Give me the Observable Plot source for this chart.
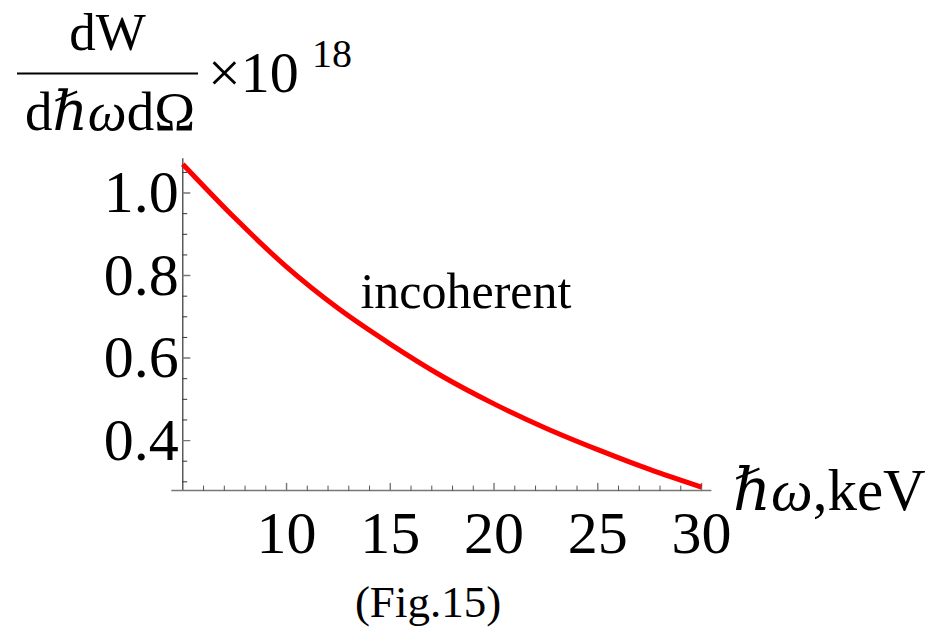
<!DOCTYPE html>
<html>
<head>
<meta charset="utf-8">
<script src="https://cdn.jsdelivr.net/npm/d3@7"></script>
<script src="https://cdn.jsdelivr.net/npm/@observablehq/plot@0.6"></script>
<style>
  html, body { margin: 0; padding: 0; background: #fff; }
  #chart { position: relative; width: 929px; height: 633px; }
  svg text { font-family: "Liberation Serif", "DejaVu Serif", serif; }
</style>
</head>
<body>
<div id="chart"></div>
<script>
// Photon energy (keV) and the incoherent spectral-angular density (×10^18)
const energy    = [5, 7.5, 10, 12.5, 15, 17.5, 20, 22.5, 25, 27.5, 30];
const intensity = [1.07, 0.94, 0.821, 0.72, 0.634, 0.556, 0.489, 0.43, 0.378, 0.33, 0.287];

// Axis ticks
const xMajor = [10, 15, 20, 25, 30];
const xMinor = [6, 7, 8, 9, 11, 12, 13, 14, 16, 17, 18, 19, 21, 22, 23, 24, 26, 27, 28, 29];
const yMajor = [0.4, 0.6, 0.8, 1.0];
const yMinor = [0.3, 0.35, 0.45, 0.5, 0.55, 0.65, 0.7, 0.75, 0.85, 0.9, 0.95, 1.05];
const yTickLabels = ["0.4", "0.6", "0.8", "1.0"];

const xDomain = [5, 30.5];
const yDomain = [0.279, 1.083];
const xMin = xDomain[0], yMin = yDomain[0];

const curve = energy.map((e, i) => ({e, w: intensity[i]}));
const annotation = [{e: 13.56, w: 0.759, text: "incoherent"}];

const font = "Liberation Serif";

// a plain straight tick, drawn as a vector shape
const tickShape = {
  draw(context, l) {
    context.moveTo(0, 0);
    context.lineTo(0, -l);
  }
};

const plot = Plot.plot({
  width: 929,
  height: 633,
  marginLeft: 182.3,
  marginRight: 217.6,
  marginTop: 158.3,
  marginBottom: 143,
  style: {background: "#fff", overflow: "visible"},
  x: {domain: xDomain, axis: null},
  y: {domain: yDomain, axis: null},
  marks: [
    // axis lines
    Plot.ruleX([xMin], {stroke: "#333", strokeWidth: 1.2}),
    Plot.ruleY([yMin], {stroke: "#777", strokeWidth: 1.4, insetLeft: -11}),
    // inward ticks on the x axis
    Plot.vector(xMinor, {x: d => d, y: yMin, length: 4.5, rotate: 0, anchor: "start", shape: tickShape, stroke: "#555", strokeWidth: 1}),
    Plot.vector(xMajor, {x: d => d, y: yMin, length: 7, rotate: 0, anchor: "start", shape: tickShape, stroke: "#777", strokeWidth: 1.4}),
    // inward ticks on the y axis
    Plot.vector(yMinor, {x: xMin, y: d => d, length: 4, rotate: 90, anchor: "start", shape: tickShape, stroke: "#333", strokeWidth: 1}),
    Plot.vector(yMajor, {x: xMin, y: d => d, length: 7, rotate: 90, anchor: "start", shape: tickShape, stroke: "#777", strokeWidth: 1.4}),
    // tick labels
    Plot.text(xMajor, {x: d => d, y: yMin, text: d => String(d), dy: 43, fontSize: 60, fontFamily: font, fill: "#000"}),
    Plot.text(yMajor, {x: xMin, y: d => d, text: (d, i) => yTickLabels[i], dx: -4, textAnchor: "end", fontSize: 60, fontFamily: font, fill: "#000"}),
    // spectrum
    Plot.line(curve, {x: "e", y: "w", stroke: "#ff0000", strokeWidth: 5, curve: "monotone-x", strokeLinecap: "butt"}),
    Plot.text(annotation, {x: "e", y: "w", text: "text", textAnchor: "start", fontSize: 50, fontFamily: font, fill: "#000"})
  ]
});

document.getElementById("chart").appendChild(plot);

// axis titles and caption
const svg = d3.select(plot);
const g = svg.append("g").attr("font-family", font).attr("fill", "#000").attr("text-anchor", "start");

g.append("text").attr("x", 107.5).attr("y", 50).attr("text-anchor", "middle")
  .attr("font-size", 53).text("dW");
g.append("line").attr("x1", 17).attr("x2", 198).attr("y1", 73.5).attr("y2", 73.5)
  .attr("stroke", "#000").attr("stroke-width", 2);
const den = g.append("text").attr("x", 110).attr("y", 130).attr("text-anchor", "middle").attr("font-size", 55);
den.append("tspan").text("d");
den.append("tspan").attr("font-style", "italic").text("ℏω");
den.append("tspan").text("dΩ");

g.append("text").attr("x", 208).attr("y", 92).attr("text-anchor", "start").attr("font-size", 58).text("×10");
g.append("text").attr("x", 312).attr("y", 67).attr("text-anchor", "start").attr("font-size", 40).text("18");

const xl = g.append("text").attr("x", 733).attr("y", 510).attr("text-anchor", "start").attr("font-size", 59);
xl.append("tspan").attr("font-style", "italic").text("ℏω");
xl.append("tspan").text(",keV");

g.append("text").attr("x", 428).attr("y", 617).attr("text-anchor", "middle")
  .attr("font-size", 45).text("(Fig.15)");
</script>
</body>
</html>
